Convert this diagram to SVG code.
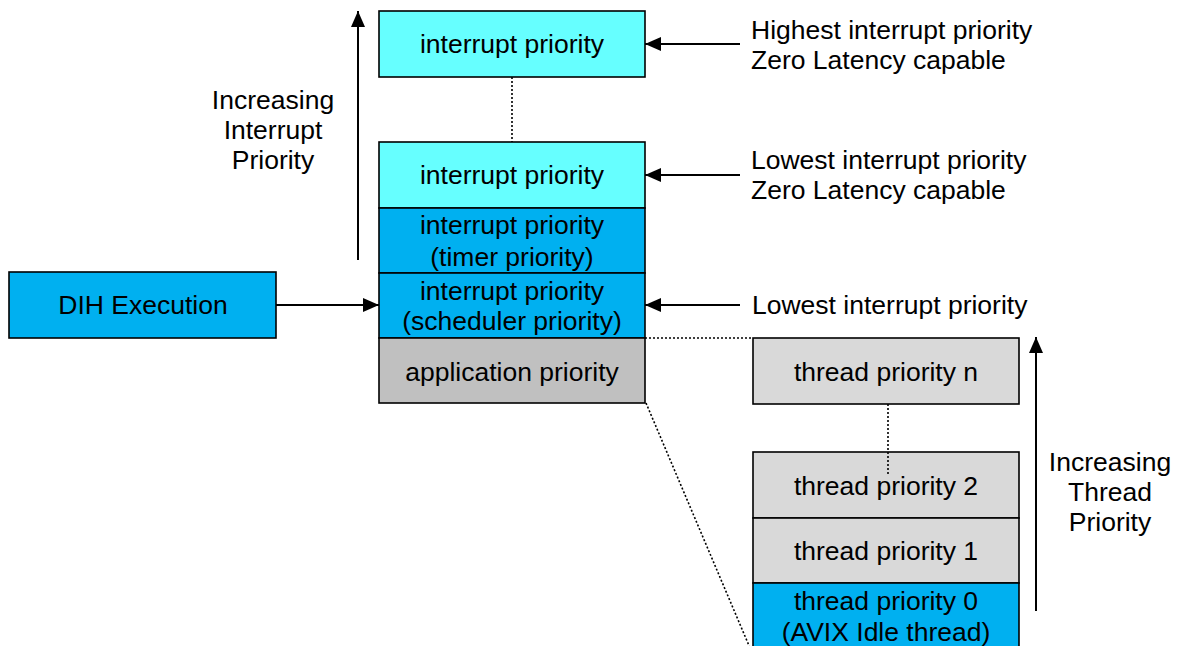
<svg xmlns="http://www.w3.org/2000/svg" width="1182" height="646" viewBox="0 0 1182 646">
  <style>
    .box { stroke: #000; stroke-width: 1.6; }
    .cyan { fill: #66FFFF; }
    .blue { fill: #00B0F0; }
    .app { fill: #C0C0C0; }
    .thread { fill: #D9D9D9; }
    text { font-family: "Liberation Sans", Arial, sans-serif; font-size: 26.5px; fill: #000; }
    .c { text-anchor: middle; }
    .arrow { stroke: #000; stroke-width: 2; fill: none; marker-end: url(#head); }
    .dots { stroke: #000; stroke-width: 1.6; stroke-dasharray: 2 2; fill: none; }
  </style>
  <defs>
    <marker id="head" viewBox="0 0 16 14" refX="16" refY="7" markerWidth="16" markerHeight="14" markerUnits="userSpaceOnUse" orient="auto">
      <path d="M0,0 L16,7 L0,14 Z" fill="#000"/>
    </marker>
  </defs>

  <rect width="1182" height="646" fill="#fff"/>

  <!-- dotted guide lines and arrows -->
  <g id="connectors">
    <line class="dots" x1="512" y1="77" x2="512" y2="142"/>
    <line class="dots" x1="645" y1="338" x2="753" y2="338"/>
    <line class="dots" x1="646" y1="403" x2="750" y2="648"/>
    <line class="arrow" x1="276" y1="305" x2="379" y2="305"/>
    <line class="arrow" x1="740" y1="44" x2="645" y2="44"/>
    <line class="arrow" x1="740" y1="175" x2="645" y2="175"/>
    <line class="arrow" x1="740" y1="305" x2="645" y2="305"/>
    <line class="arrow" x1="358" y1="260" x2="358" y2="11"/>
    <line class="arrow" x1="1036" y1="611" x2="1036" y2="337"/>
  </g>

  <!-- interrupt priority stack -->
  <g id="irq-highest">
    <rect class="box cyan" x="379" y="11" width="266" height="66"/>
    <text class="c" x="512" y="53">interrupt priority</text>
  </g>
  <g id="irq-lowest-zl">
    <rect class="box cyan" x="379" y="142" width="266" height="66"/>
    <text class="c" x="512" y="184">interrupt priority</text>
  </g>
  <g id="irq-timer">
    <rect class="box blue" x="379" y="208" width="266" height="65"/>
    <text class="c" x="512" y="234">interrupt priority</text>
    <text class="c" x="512" y="266">(timer priority)</text>
  </g>
  <g id="irq-scheduler">
    <rect class="box blue" x="379" y="273" width="266" height="65"/>
    <text class="c" x="512" y="300">interrupt priority</text>
    <text class="c" x="512" y="330">(scheduler priority)</text>
  </g>
  <g id="application">
    <rect class="box app" x="379" y="338" width="266" height="65"/>
    <text class="c" x="512" y="381">application priority</text>
  </g>

  <g id="dih">
    <rect class="box blue" x="9" y="272" width="267" height="66"/>
    <text class="c" x="143" y="314">DIH Execution</text>
  </g>

  <!-- thread priority stack -->
  <g id="thread-n">
    <rect class="box thread" x="753" y="338" width="266" height="66"/>
    <text class="c" x="886" y="381">thread priority n</text>
  </g>
  <g id="thread-2">
    <rect class="box thread" x="753" y="452" width="266" height="66"/>
    <text class="c" x="886" y="495">thread priority 2</text>
  </g>
  <g id="thread-1">
    <rect class="box thread" x="753" y="518" width="266" height="65"/>
    <text class="c" x="886" y="560">thread priority 1</text>
  </g>
  <g id="thread-0">
    <rect class="box blue" x="753" y="583" width="266" height="70"/>
    <text class="c" x="886" y="610">thread priority 0</text>
    <text class="c" x="886" y="641">(AVIX Idle thread)</text>
  </g>
  <line class="dots" x1="888" y1="404" x2="888" y2="476"/>

  <!-- side labels -->
  <g id="labels">
    <text x="751" y="39">Highest interrupt priority</text>
    <text x="751" y="69">Zero Latency capable</text>
    <text x="751" y="169">Lowest interrupt priority</text>
    <text x="751" y="199">Zero Latency capable</text>
    <text x="752" y="314">Lowest interrupt priority</text>
    <text class="c" x="273" y="109">Increasing</text>
    <text class="c" x="273" y="139">Interrupt</text>
    <text class="c" x="273" y="169">Priority</text>
    <text class="c" x="1110" y="471">Increasing</text>
    <text class="c" x="1110" y="501">Thread</text>
    <text class="c" x="1110" y="531">Priority</text>
  </g>
</svg>
